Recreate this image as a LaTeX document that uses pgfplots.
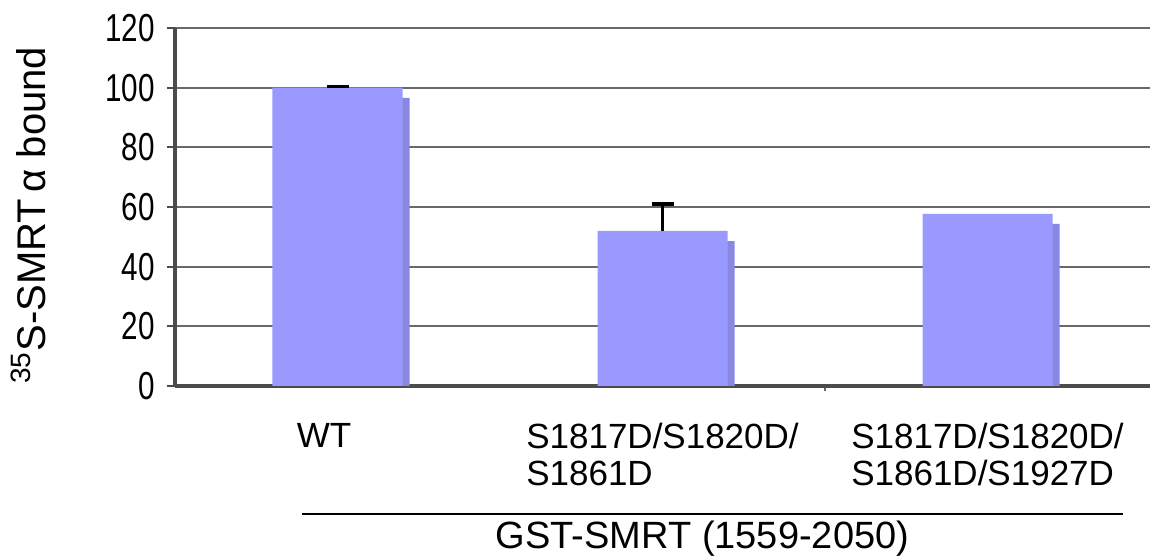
\documentclass[border=0pt]{standalone}
\usepackage{fontspec}
\setmainfont{Liberation Sans}
\usepackage{graphicx}
\usepackage{pgfplots}
\pgfplotsset{compat=1.18}

\definecolor{barfill}{RGB}{153,153,255}
\definecolor{barshade}{RGB}{136,136,226}
\definecolor{gridgray}{RGB}{105,105,105}
\definecolor{axisgray}{RGB}{75,75,75}

\begin{document}
\begin{tikzpicture}
\begin{axis}[
    scale only axis,
    width=487.5pt, height=179pt,
    xmin=-0.5, xmax=2.5,
    ymin=0, ymax=120,
    ytick={0,20,...,120},
    xtick={0,1,2},
    xticklabels={WT\hspace*{13.5pt}, S1817D/S1820D/\\S1861D, S1817D/S1820D/\\S1861D/S1927D},
    minor xtick={1.5},
    axis x line*=bottom, axis y line*=left,
    axis line style={axisgray, line width=1.6pt, -},
    ymajorgrids,
    grid style={gridgray, line width=1pt},
    tick align=outside,
    major tick length=4pt, minor tick length=2.5pt,
    major x tick style={draw=none},
    minor x tick style={gridgray, line width=0.6pt},
    ytick style={axisgray, line width=1pt},
    /pgf/number format/assume math mode=true,
    yticklabel={\scalebox{0.76}[1]{\pgfmathprintnumber{\tick}}},
    yticklabel style={font=\fontsize{19.5}{19.5}\selectfont, xshift=-2.5pt},
    xticklabel style={font=\fontsize{17.5}{18.5}\selectfont, align=left, anchor=north, yshift=-11pt},
    ylabel={\textsuperscript{35}S-SMRT\,α bound},
    ylabel style={at={(axis description cs:-0.15,0.477)}, anchor=center,
                  font=\fontsize{20}{20}\selectfont},
    clip=false,
]
% shadow of the bars
\addplot[ybar, bar width=65pt, bar shift=3.5pt, fill=barshade, draw=none]
    coordinates {(0,96.6) (1,48.6) (2,54.3)};
% bars
\addplot[ybar, bar width=65pt, bar shift=0pt, fill=barfill, draw=none]
    coordinates {(0,100) (1,52) (2,57.7)};
% error bars
\addplot[draw=none, mark=none,
    error bars/.cd, y dir=plus, y explicit,
    error bar style={black, line width=1.3pt},
    error mark options={rotate=90, mark size=5.5pt, line width=1.8pt, black}]
    coordinates {(0,100) +- (0,0.4) (1,52) +- (0,9)};

\draw[line width=1.2pt] (axis description cs:0.130,-0.3575) -- (axis description cs:0.972,-0.3575);
\node[font=\fontsize{19}{19}\selectfont] at (axis description cs:0.541,-0.427) {GST-SMRT (1559-2050)};
\end{axis}
\pgfresetboundingbox
\path ([shift={(-87.5pt,-87pt)}]current axis.south west) rectangle ([shift={(0pt,14pt)}]current axis.north east);
\end{tikzpicture}
\end{document}
